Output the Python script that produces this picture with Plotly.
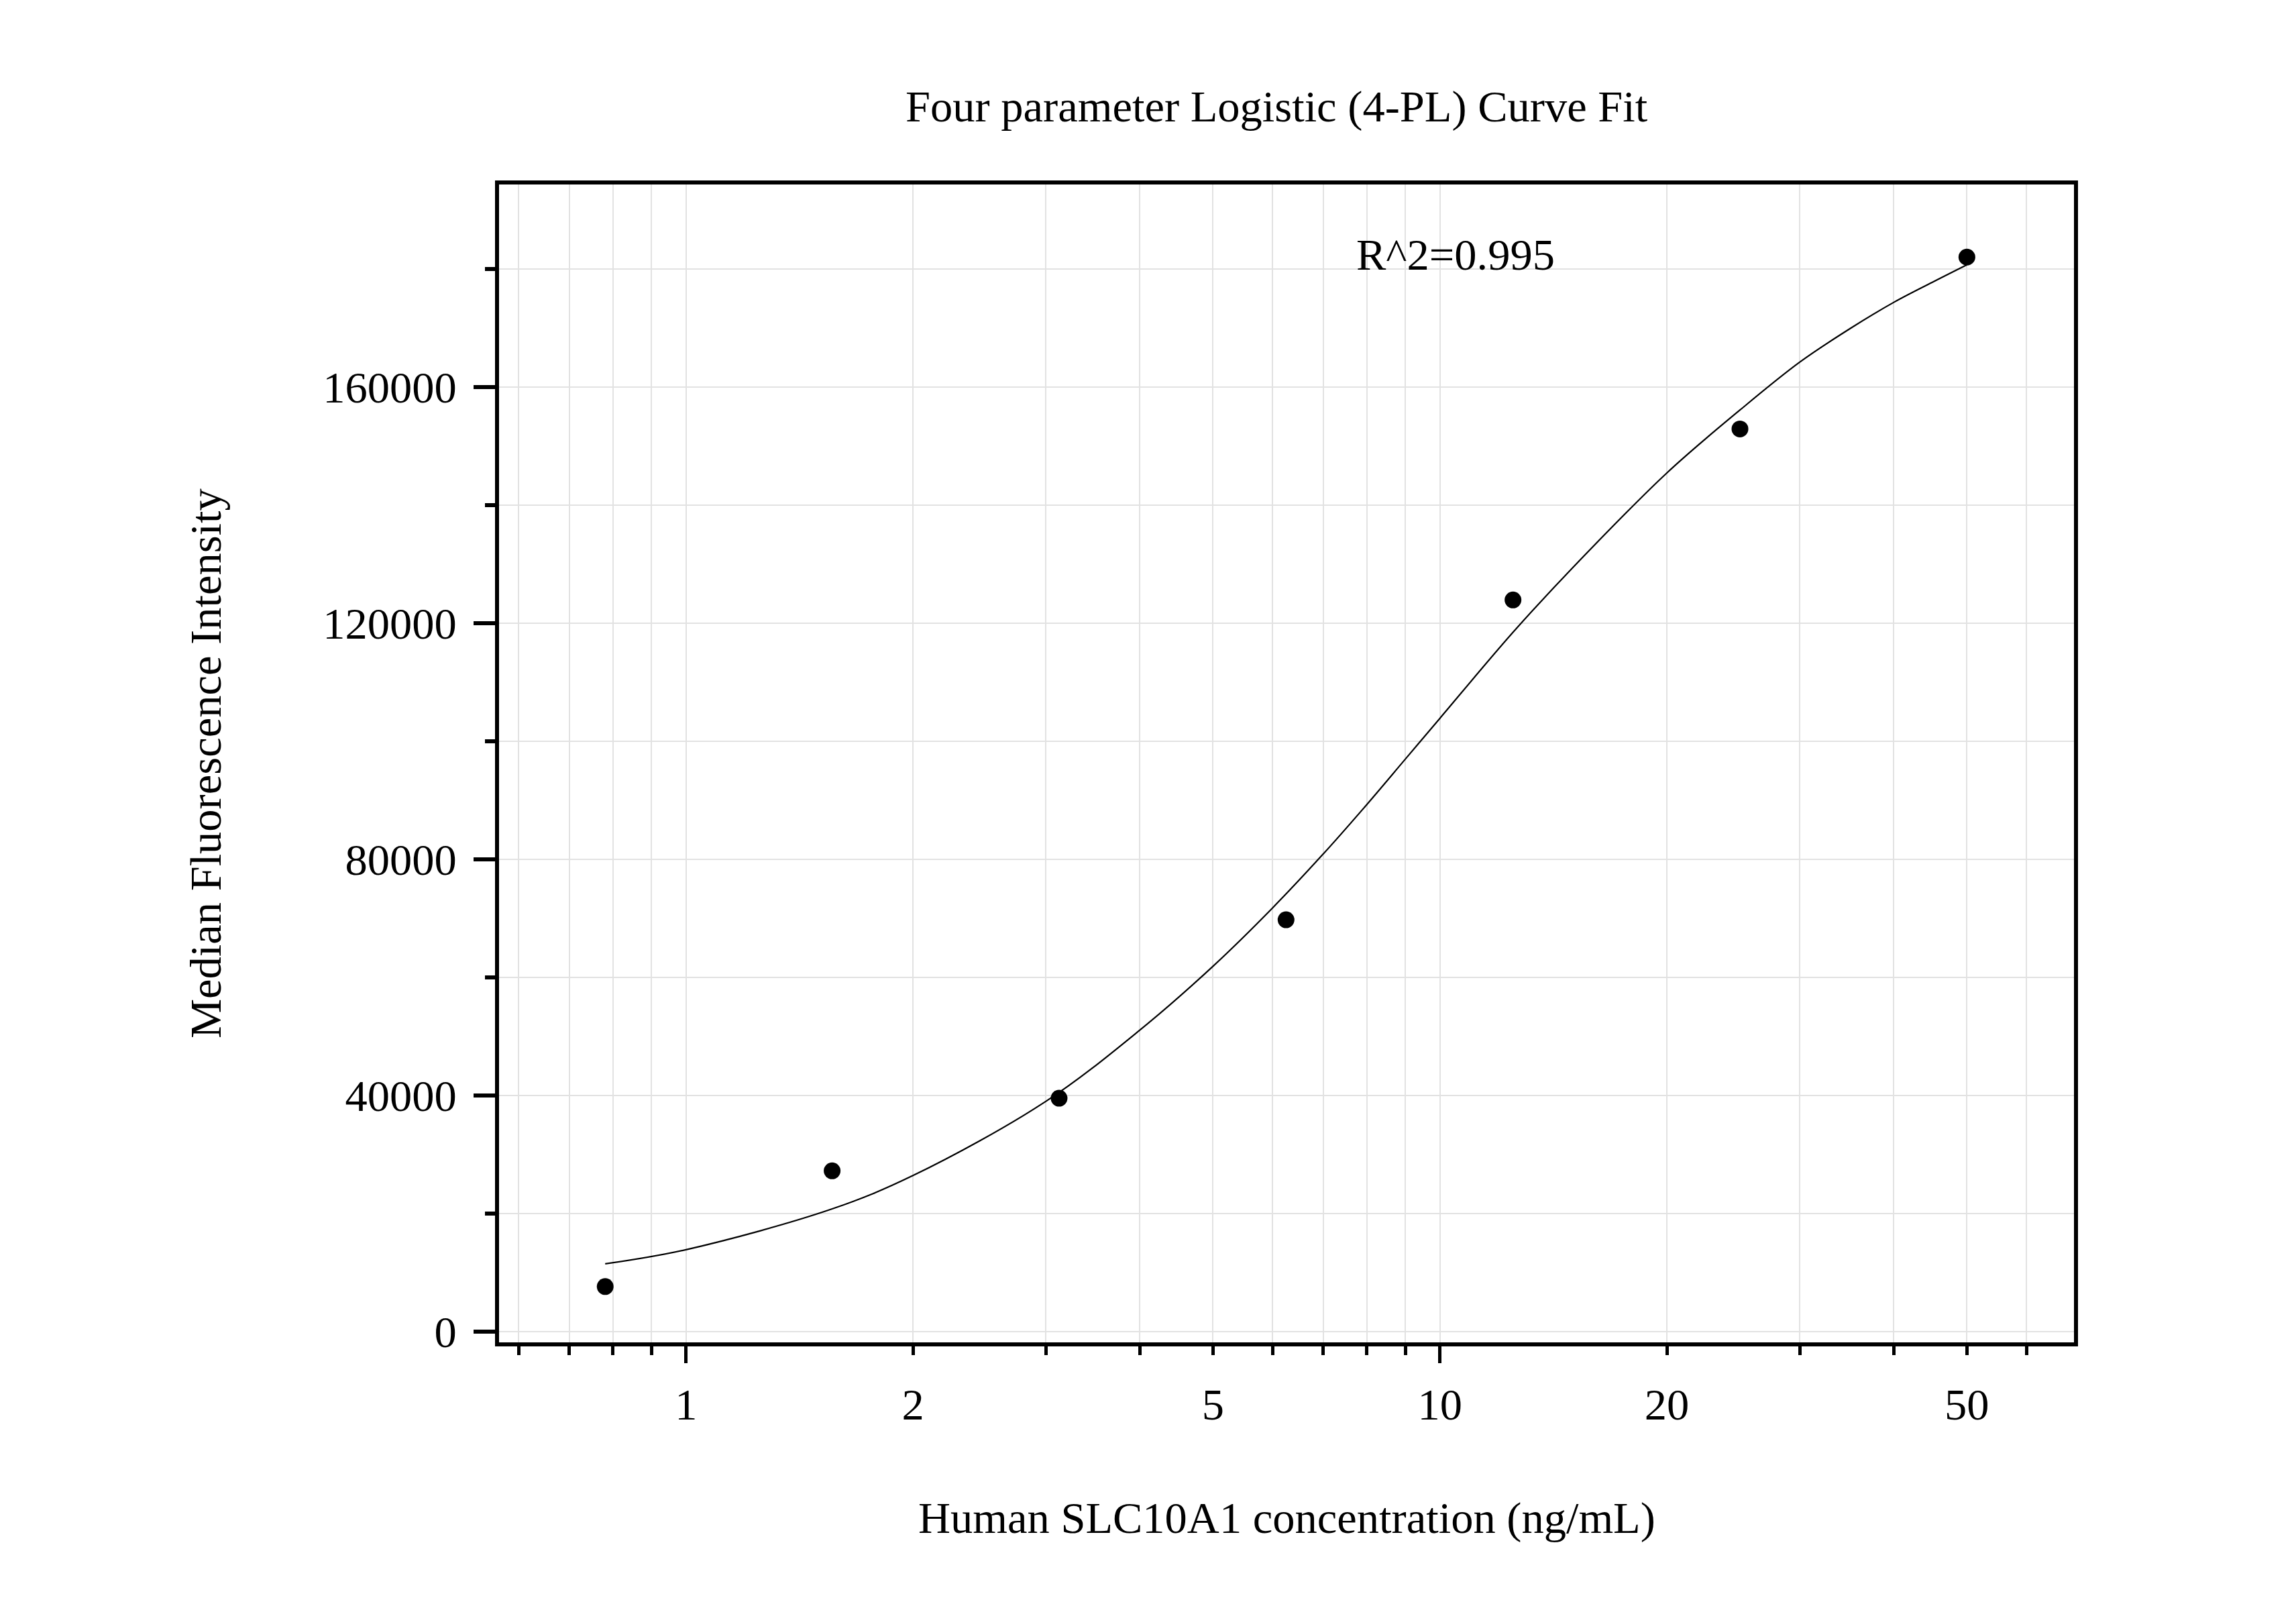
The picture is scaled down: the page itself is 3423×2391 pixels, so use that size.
import plotly.graph_objects as go

# measured standards (ng/mL vs MFI)
conc = [0.78125, 1.5625, 3.125, 6.25, 12.5, 25, 50]
mfi = [7650, 27250, 39550, 69770, 123930, 152900, 182000]

# fitted 4-PL curve
curve_x = [0.78125, 1, 1.5625, 2, 3, 4, 5, 6, 7, 8, 9, 10, 12.5, 15, 20, 25, 30, 35, 40, 45, 50]
curve_y = [11500, 13900, 20800, 26450, 39000, 51100, 61900, 71800, 80900, 89300,
           97000, 103900, 118450, 129400, 145450, 156100, 164200, 169900, 174350,
           177750, 180700]

x_tickvals = [0.6, 0.7, 0.8, 0.9, 1, 2, 3, 4, 5, 6, 7, 8, 9, 10, 20, 30, 40, 50, 60]
x_ticktext = ["", "", "", "", "1", "2", "", "", "5", "", "", "", "", "10", "20", "", "", "50", ""]
x_long_ticks = [1, 10]

title_text = "Four parameter Logistic (4-PL) Curve Fit"
x_title = "Human SLC10A1 concentration (ng/mL)"
y_title = "Median Fluorescence Intensity"
r2_text = "R^2=0.995"

FONT = "Liberation Serif"
FS = 66.5
GRID = "#e2e2e2"
x_range = [-0.248, 1.841]
y_range = [-1800, 194300]

fig = go.Figure()
fig.add_trace(go.Scatter(x=curve_x, y=curve_y, mode="lines", line_shape="spline",
                         line=dict(color="black", width=2.2), hoverinfo="skip"))
fig.add_trace(go.Scatter(x=conc, y=mfi, mode="markers", xaxis="x2",
                         marker=dict(color="black", size=25)))

fig.update_layout(
    width=3423, height=2391,
    margin=dict(l=736, r=339, t=267, b=398),
    paper_bgcolor="white", plot_bgcolor="white",
    showlegend=False,
    font=dict(family=FONT, size=FS, color="black"),
    xaxis=dict(type="log", range=x_range, tickmode="array",
               tickvals=x_tickvals, ticktext=x_ticktext,
               ticks="outside", ticklen=13, tickwidth=5, tickcolor="black",
               ticklabelstandoff=16,
               showgrid=True, gridcolor=GRID, gridwidth=2, zeroline=False,
               showline=True, linewidth=6, linecolor="black", mirror=True),
    xaxis2=dict(type="log", range=x_range, overlaying="x", anchor="y", side="bottom",
                tickmode="array", tickvals=x_long_ticks, showticklabels=False,
                ticks="outside", ticklen=30, tickwidth=5, tickcolor="black",
                showgrid=False, zeroline=False, showline=False),
    yaxis=dict(range=y_range, tickmode="linear", tick0=0, dtick=40000, tickformat="d",
               ticks="outside", ticklen=32, tickwidth=6, tickcolor="black",
               ticklabelstandoff=12,
               minor=dict(tick0=0, dtick=20000, ticks="outside", ticklen=15, tickwidth=6,
                          tickcolor="black", showgrid=True, gridcolor=GRID, gridwidth=2),
               showgrid=True, gridcolor=GRID, gridwidth=2, zeroline=False,
               showline=True, linewidth=6, linecolor="black", mirror=True),
)

fig.add_annotation(text=title_text, xref="paper", yref="paper", x=0.494, y=1.067,
                   xanchor="center", yanchor="middle", showarrow=False,
                   font=dict(size=FS))
fig.add_annotation(text=x_title, xref="paper", yref="paper", x=0.5, y=-0.152,
                   xanchor="center", yanchor="middle", showarrow=False,
                   font=dict(size=FS))
fig.add_annotation(text=y_title, xref="paper", yref="paper", x=-0.1865, y=0.5,
                   xanchor="center", yanchor="middle", textangle=-90, showarrow=False,
                   font=dict(size=FS))
fig.add_annotation(text=r2_text, x=0.8876, y=182400, xref="x", yref="y",
                   xanchor="left", yanchor="middle", showarrow=False,
                   font=dict(size=FS))

fig.write_html("out.html", config={"displayModeBar": False})
